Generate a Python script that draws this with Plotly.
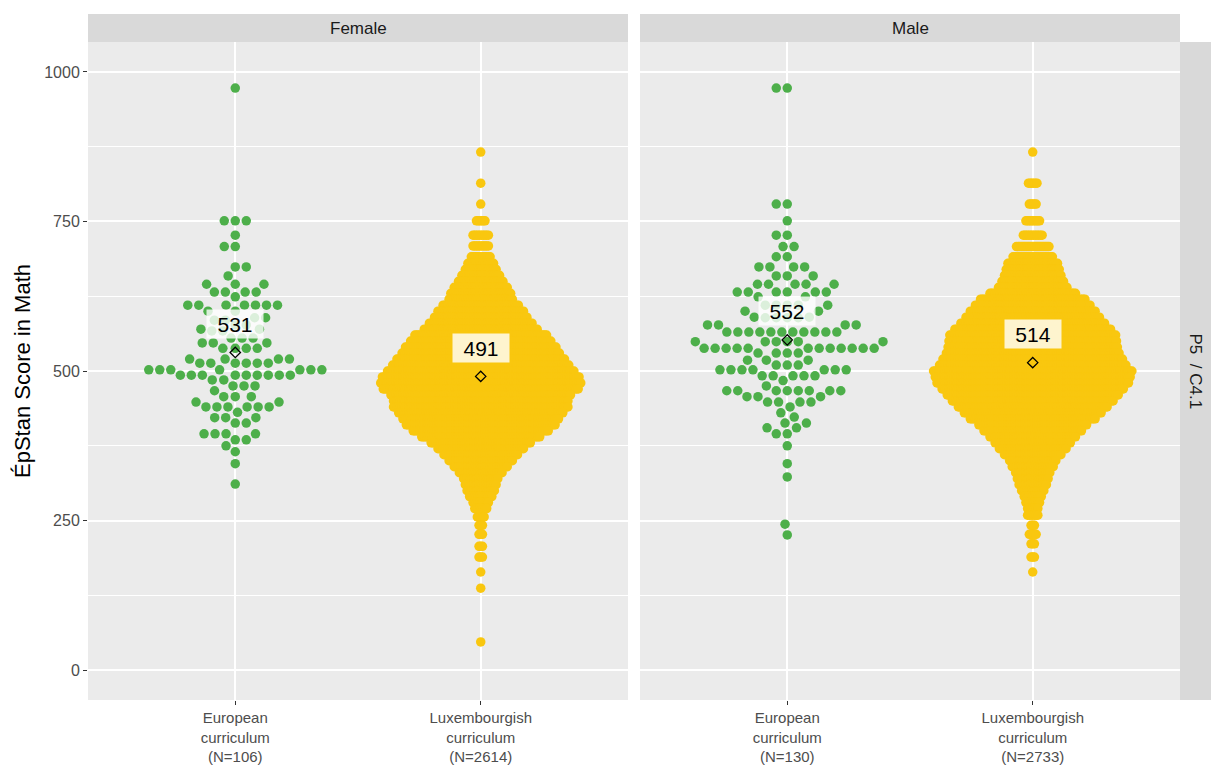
import numpy as np
import plotly.graph_objects as go

# ---------------- data ----------------
genders = ["Female", "Male"]
tick_labels = {
    "Female": ["European<br>curriculum<br>(N=106)", "Luxembourgish<br>curriculum<br>(N=2614)"],
    "Male": ["European<br>curriculum<br>(N=130)", "Luxembourgish<br>curriculum<br>(N=2733)"],
}
means = {"Female": [531, 491], "Male": [552, 514]}
facet_row_label = "P5  / C4.1"
y_title = "ÉpStan Score in Math"
y_ticks = [0, 250, 500, 750, 1000]
y_minor = [125, 375, 625, 875]

female_euro_scores = [
    973, 751, 751, 751, 727, 708, 708, 674, 674, 659, 645, 645, 645,
    632, 632, 632, 632, 624, 610, 610, 610, 610, 610, 610, 610, 600, 600,
    589, 589, 585, 585, 577, 577, 570, 570, 567, 567, 555, 555, 555,
    547, 547, 547, 538, 538, 538, 538, 520, 520, 520, 520,
    513, 513, 513, 513, 513, 513, 502, 502, 502, 502, 502, 502, 502,
    493, 493, 493, 493, 493, 493, 493, 493, 493, 485, 485,
    475, 475, 475, 467, 457, 457, 457, 448, 448,
    440, 440, 440, 440, 440, 440, 431, 422, 422, 422, 413, 413,
    395, 395, 395, 395, 385, 385, 375, 365, 345, 311,
]
male_euro_scores = [
    973, 973, 779, 779, 751, 727, 727, 708, 708, 691, 691,
    674, 674, 674, 674, 659, 659, 659, 645, 645, 645, 645, 645,
    632, 632, 632, 632, 632, 632, 624, 624,
    610, 610, 610, 610, 610, 600, 600, 590, 590, 589, 589, 589, 589,
    577, 577, 577, 577,
    565, 565, 565, 565, 565, 565, 565, 565, 565, 565, 565,
    549, 549, 549, 549, 549, 549,
    538, 538, 538, 538, 538, 538, 538, 538, 538, 538, 538, 538,
    530, 530, 530, 530, 518, 518, 518, 510, 510, 510,
    502, 502, 502, 502, 502, 502, 502, 492, 492, 492, 492, 492,
    484, 475, 467, 467, 467, 467, 467, 467, 467, 467,
    457, 457, 457, 448, 448, 448, 448, 440, 430, 423,
    413, 413, 405, 405, 395, 395, 375, 345, 323, 244, 226,
]

female_lux_levels = [
    866, 814, 779, 751, 727, 709, 691,
    680, 670, 660, 650, 640, 630, 620, 610, 600,
    590, 580, 570, 560, 550, 540, 530, 520, 510, 500,
    490, 480, 470, 460, 450, 440, 430, 420, 410, 400,
    390, 380, 370, 360, 350, 340, 330, 320, 310, 300, 290,
    280, 270, 256, 242, 227, 207, 189, 164, 137, 47,
]
female_lux_counts = [
    1, 1, 1, 6, 10, 10, 12,
    16, 19, 23, 27, 32, 36, 38, 45, 51,
    55, 61, 67, 78, 83, 89, 93, 99, 104, 110,
    116, 118, 115, 106, 103, 103, 97, 92, 88, 80,
    70, 59, 51, 44, 38, 32, 26, 21, 19, 17, 14,
    10, 8, 5, 3, 3, 3, 3, 1, 1, 1,
]
male_lux_levels = [
    866, 814, 779, 751, 727, 708, 691,
    680, 670, 660, 650, 640, 630, 620, 610, 600,
    590, 580, 570, 560, 550, 540, 530, 520, 510, 500,
    490, 480, 470, 460, 450, 440, 430, 420, 410, 400,
    390, 380, 370, 360, 350, 340, 330, 320, 310, 300, 290,
    280, 270, 259, 242, 227, 211, 189, 164,
]
male_lux_counts = [
    1, 6, 5, 9, 12, 20, 24,
    30, 32, 34, 37, 41, 51, 62, 68, 74,
    79, 85, 92, 98, 99, 100, 102, 106, 110, 117,
    115, 113, 107, 101, 95, 88, 81, 74, 64, 58,
    51, 45, 40, 34, 28, 25, 21, 19, 17, 14, 11,
    9, 7, 7, 3, 5, 3, 3, 1,
]

# ---------------- styling / layout constants ----------------
GREEN = "#4DAF4A"
YELLOW = "#F9C70F"
FONT = "Liberation Sans, Arial, Helvetica, sans-serif"
FIG_W, FIG_H = 1211, 767
ML, MR, MT, MB = 88, 31, 42, 67
GAP = 12
STRIP_H = 28
plot_w = FIG_W - ML - MR
plot_h = FIG_H - MT - MB
panel_w = (plot_w - GAP) / 2
Y_RANGE = [-50, 1050]
X_RANGE = [0.4, 2.6]
px_per_y = plot_h / (Y_RANGE[1] - Y_RANGE[0])
px_per_x = panel_w / (X_RANGE[1] - X_RANGE[0])
DOT = 9.5
SWARM_D = 11.0
ROW_STEP = 1.71


def swarm_offsets(values, d):
    """Simple beeswarm: place each point as close to the centre as possible."""
    ys = [v * px_per_y for v in values]
    order = sorted(range(len(ys)), key=lambda i: ys[i])
    xs = [0.0] * len(ys)
    placed = []
    for i in order:
        y = ys[i]
        intervals = []
        for (px, py) in placed:
            dy = abs(y - py)
            if dy < d:
                h = (d * d - dy * dy) ** 0.5
                intervals.append((px - h, px + h))
        cands = [0.0] + [a for a, b in intervals] + [b for a, b in intervals]
        cands.sort(key=lambda c: (round(abs(c), 6), c))
        for c in cands:
            if all(not (a + 1e-6 < c < b - 1e-6) for a, b in intervals):
                xs[i] = c
                break
        placed.append((xs[i], y))
    return [x / px_per_x for x in xs]


def row_layout(levels, counts, step):
    xs, ys = [], []
    for lv, n in zip(levels, counts):
        for k in range(n):
            xs.append((k - (n - 1) / 2) * step / px_per_x)
            ys.append(lv)
    return xs, ys


fig = go.Figure()
groups = {
    "Female": (female_euro_scores, female_lux_levels, female_lux_counts),
    "Male": (male_euro_scores, male_lux_levels, male_lux_counts),
}
axes = {"Female": ("x", "y"), "Male": ("x2", "y2")}

for g in genders:
    euro, lvls, cnts = groups[g]
    xa, ya = axes[g]
    ex = swarm_offsets(euro, SWARM_D)
    fig.add_trace(go.Scatter(
        x=[1 + o for o in ex], y=euro, mode="markers", xaxis=xa, yaxis=ya,
        marker=dict(color=GREEN, size=DOT, line=dict(width=0)),
        hoverinfo="skip", showlegend=False))
    lx, ly = row_layout(lvls, cnts, ROW_STEP)
    fig.add_trace(go.Scatter(
        x=[2 + o for o in lx], y=ly, mode="markers", xaxis=xa, yaxis=ya,
        marker=dict(color=YELLOW, size=DOT, line=dict(width=0)),
        hoverinfo="skip", showlegend=False))
    fig.add_trace(go.Scatter(
        x=[1, 2], y=means[g], mode="markers", xaxis=xa, yaxis=ya,
        marker=dict(symbol="diamond-open", size=8, color="black",
                    line=dict(width=1.3, color="black")),
        hoverinfo="skip", showlegend=False))
    for i, m in enumerate(means[g]):
        fig.add_annotation(
            x=i + 1, y=m + 48, xref=xa, yref=ya, text=str(m), showarrow=False,
            font=dict(family=FONT, size=21, color="black"),
            bgcolor="rgba(255,255,255,0.8)", width=56, height=28, borderpad=0)

dom1 = [0, panel_w / plot_w]
dom2 = [(panel_w + GAP) / plot_w, 1]
tickfont = dict(family=FONT, size=16, color="#4D4D4D")
xtickfont = dict(family=FONT, size=15, color="#4D4D4D")
common_x = dict(range=X_RANGE, tickvals=[1, 2], ticks="outside", ticklen=4,
                tickcolor="#333333", tickwidth=1, showgrid=True,
                gridcolor="white", gridwidth=1.6, zeroline=False,
                showline=False, tickfont=xtickfont, ticklabelstandoff=0,
                automargin=False)
common_y = dict(range=Y_RANGE, tickvals=y_ticks, showgrid=True,
                gridcolor="white", gridwidth=1.6, zeroline=False,
                showline=False, automargin=False,
                minor=dict(tickvals=y_minor, showgrid=True,
                           gridcolor="white", gridwidth=0.8))
fig.update_layout(
    width=FIG_W, height=FIG_H,
    margin=dict(l=ML, r=MR, t=MT, b=MB, pad=0, autoexpand=False),
    paper_bgcolor="white", plot_bgcolor="rgba(0,0,0,0)",
    xaxis=dict(domain=dom1, anchor="y", ticktext=tick_labels["Female"], **common_x),
    xaxis2=dict(domain=dom2, anchor="y2", ticktext=tick_labels["Male"], **common_x),
    yaxis=dict(anchor="x", ticks="outside", ticklen=4, tickcolor="#333333",
               tickwidth=1, tickfont=tickfont, **common_y),
    yaxis2=dict(anchor="x2", matches="y", showticklabels=False, ticks="", **common_y),
    showlegend=False,
)

# panel backgrounds and strips
for xa, ya, g in [("x", "y", "Female"), ("x2", "y2", "Male")]:
    fig.add_shape(type="rect", xref=f"{xa} domain", yref=f"{ya} domain",
                  x0=0, x1=1, y0=0, y1=1, fillcolor="#EBEBEB",
                  line=dict(width=0), layer="below")
    fig.add_shape(type="rect", xref=f"{xa} domain", yref="paper",
                  x0=0, x1=1, y0=1, y1=1 + STRIP_H / plot_h,
                  fillcolor="#D9D9D9", line=dict(width=0), layer="below")
    fig.add_annotation(xref=f"{xa} domain", yref="paper", x=0.5,
                       y=1 + STRIP_H / 2 / plot_h, text=g, showarrow=False,
                       font=dict(family=FONT, size=17, color="#1A1A1A"),
                       xanchor="center", yanchor="middle")

fig.add_shape(type="rect", xref="paper", yref="paper", x0=1,
              x1=1 + MR / plot_w, y0=0, y1=1, fillcolor="#D9D9D9",
              line=dict(width=0), layer="below")
fig.add_annotation(xref="paper", yref="paper", x=1 + MR / 2 / plot_w, y=0.5,
                   text=facet_row_label, textangle=90, showarrow=False,
                   font=dict(family=FONT, size=17, color="#1A1A1A"),
                   xanchor="center", yanchor="middle")
fig.add_annotation(xref="paper", yref="paper", x=0, y=0.5, xshift=-66,
                   text=y_title, textangle=-90, showarrow=False,
                   font=dict(family=FONT, size=22, color="black"),
                   xanchor="center", yanchor="middle")

fig.write_html("out.html", config={"displayModeBar": False},
               post_script="document.body.style.margin='0';"
                           "document.body.style.overflow='hidden';")
